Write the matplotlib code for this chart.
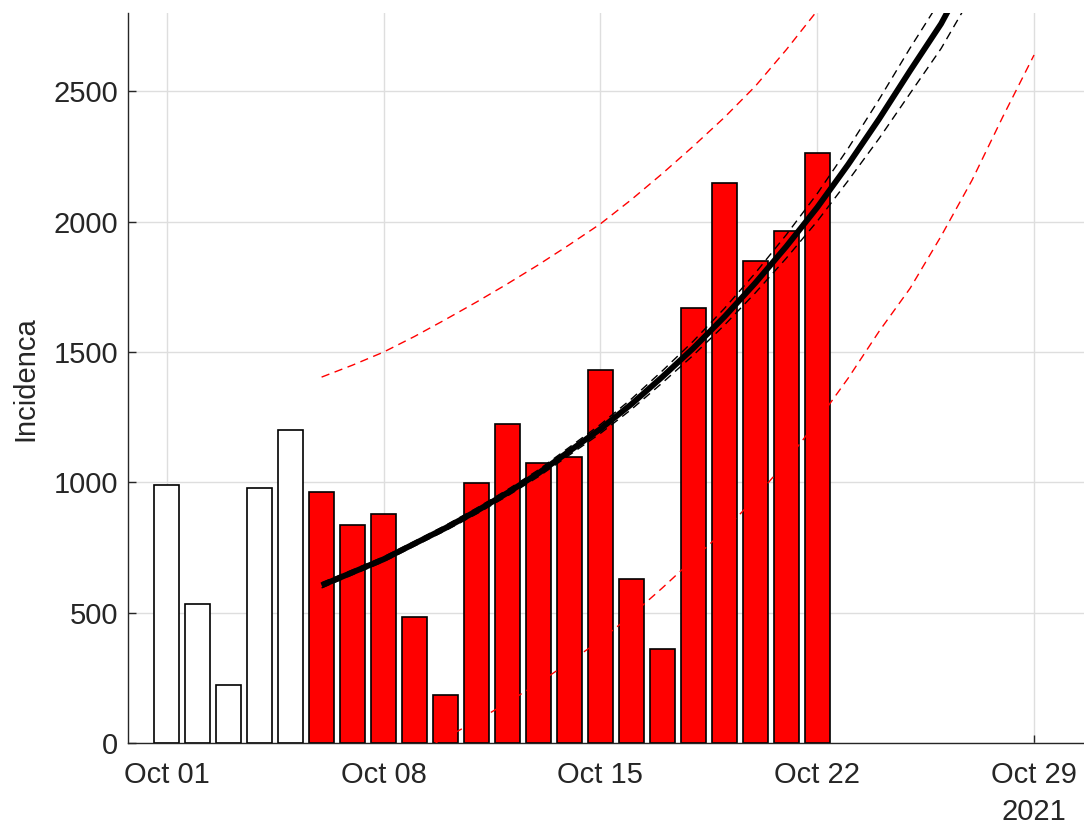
import numpy as np
import matplotlib
matplotlib.use("Agg")
import matplotlib.pyplot as plt
import matplotlib.dates as mdates

# ---------------- data ----------------
bar_dates = np.arange(np.datetime64("2021-10-01"), np.datetime64("2021-10-23"))
incidence = [989, 533, 222, 978, 1200, 962, 836, 878, 483, 184, 999, 1223,
             1076, 1097, 1430, 629, 360, 1668, 2147, 1848, 1963, 2264]
n_white = 5  # first bars not used in the fit

fit_dates = np.arange(np.datetime64("2021-10-06"), np.datetime64("2021-10-28"))
fit_center = [605, 655, 705, 765, 825, 890, 960, 1035, 1120, 1205, 1300, 1405,
              1515, 1635, 1765, 1905, 2055, 2220, 2395, 2580, 2760, 2980]
fit_upper = [615, 664, 714, 774, 835, 901, 972, 1048, 1135, 1222, 1320, 1428,
             1542, 1667, 1803, 1950, 2108, 2282, 2470, 2667, 2855, 3090]
fit_lower = [595, 646, 696, 756, 815, 879, 948, 1022, 1105, 1188, 1280, 1382,
             1488, 1603, 1727, 1860, 2002, 2158, 2320, 2493, 2665, 2870]

pi_up_dates = np.arange(np.datetime64("2021-10-06"), np.datetime64("2021-10-25"))
pi_upper = [1404, 1450, 1500, 1560, 1625, 1692, 1762, 1835, 1912, 1992, 2085,
            2185, 2290, 2400, 2520, 2660, 2810, 2970, 3140]
pi_lo_dates = np.arange(np.datetime64("2021-10-06"), np.datetime64("2021-10-30"))
pi_lower = [-250, -180, -110, -45, 20, 85, 155, 230, 310, 395, 490, 595, 705,
            815, 940, 1080, 1235, 1400, 1580, 1745, 1945, 2160, 2405, 2640]

x_ticks = np.array(["2021-10-01", "2021-10-08", "2021-10-15", "2021-10-22",
                    "2021-10-29"], dtype="datetime64[D]")
y_ticks = [0, 500, 1000, 1500, 2000, 2500]

# ---------------- figure ----------------
plt.rcParams["font.family"] = ["Liberation Sans", "DejaVu Sans"]
TXT = "#262626"
W, H = 1084, 825
fig = plt.figure(figsize=(W / 100, H / 100), dpi=100)
left_px, right_px, top_px, bot_px = 128, 1096, 13.3, 743
ax = fig.add_axes([left_px / W, (H - bot_px) / H,
                   (right_px - left_px) / W, (bot_px - top_px) / H])

colors = ["white"] * n_white + ["#ff0000"] * (len(incidence) - n_white)
ax.bar(bar_dates, incidence, width=0.8, color=colors, edgecolor="black",
       linewidth=1.2, zorder=2)

ax.plot(pi_up_dates, pi_upper, color="#ff0000", ls=(0, (6, 4)), lw=1.0, zorder=3)
ax.plot(pi_lo_dates, pi_lower, color="#ff0000", ls=(0, (6, 4)), lw=1.0, zorder=3)
ax.plot(fit_dates, fit_upper, color="black", ls=(0, (6, 4)), lw=1.0, zorder=4)
ax.plot(fit_dates, fit_lower, color="black", ls=(0, (6, 4)), lw=1.0, zorder=4)
ax.plot(fit_dates, fit_center, color="black", lw=4.2, zorder=5,
        solid_capstyle="butt")

x0 = np.datetime64("2021-10-01") - np.timedelta64(30, "h")
x1 = np.datetime64("2021-10-31")
ax.set_xlim(mdates.date2num(x0), mdates.date2num(x1))
ax.set_ylim(0, 2800)

ax.set_xticks(mdates.date2num(x_ticks))
ax.xaxis.set_major_formatter(mdates.DateFormatter("%b %d"))
ax.set_yticks(y_ticks)

ax.grid(True, color="#dedede", lw=1.0, zorder=0)
ax.set_axisbelow(True)
ax.tick_params(axis="both", direction="in", length=6, width=1.0,
               colors=TXT, labelsize=21)
ax.tick_params(axis="x", pad=13)
ax.tick_params(axis="y", pad=7)
for s in ["top", "right"]:
    ax.spines[s].set_visible(False)
for s in ["left", "bottom"]:
    ax.spines[s].set_color(TXT)
    ax.spines[s].set_linewidth(1.0)

ax.set_ylabel("Incidenca", fontsize=21, color=TXT, labelpad=10)
ax.annotate("2021", xy=(mdates.date2num(x_ticks[-1]), 0), xycoords=("data", "axes fraction"),
            xytext=(0, -69), textcoords="offset pixels", ha="center", va="center",
            fontsize=21, color=TXT, annotation_clip=False)

fig.savefig("out.png", dpi=100)
